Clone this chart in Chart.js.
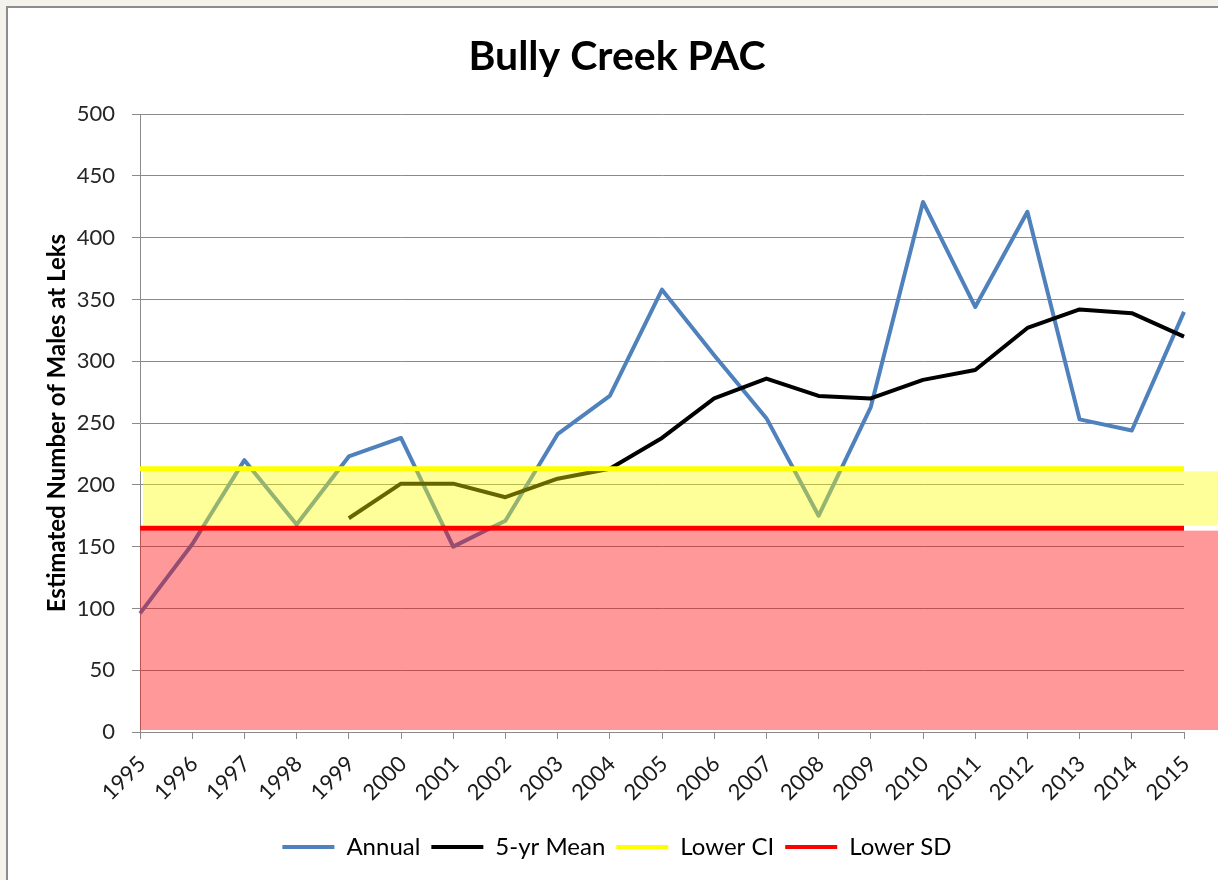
<!DOCTYPE html>
<html>
<head>
<meta charset="utf-8">
<script src="https://cdn.jsdelivr.net/npm/chart.js@4.4.1/dist/chart.umd.min.js"></script>
<style>
  html, body { margin: 0; padding: 0; background: #f3f3ec; overflow: hidden; width: 1218px; height: 880px; }
  #frame { position: absolute; left: 6px; top: 6px; width: 1240px; height: 900px; background: #ffffff;
           border-top: 2px solid #8c8c8c; border-left: 2px solid #8c8c8c; }
  canvas { position: absolute; left: 0; top: 0; }
</style>
</head>
<body>
<div id="frame"><canvas id="c" width="1224" height="872"></canvas></div>
<script>
const years = ['1995','1996','1997','1998','1999','2000','2001','2002','2003','2004','2005','2006','2007','2008','2009','2010','2011','2012','2013','2014','2015'];
const annual = [96,152,220,168,223,238,150,171,241,272,358,305,254,175,263,429,344,421,253,244,340];
const mean5  = [null,null,null,null,173,201,201,190,205,213,238,270,286,272,270,285,293,327,342,339,320];
const lowerCI = [213,213,213,213,213,213,213,213,213,213,213,213,213,213,213,213,213,213,213,213,213];
const lowerSD = [165,165,165,165,165,165,165,165,165,165,165,165,165,165,165,165,165,165,165,165,165];
const yTicks = [0,50,100,150,200,250,300,350,400,450,500];

const FONT = "Lato, 'Liberation Sans', sans-serif";

const bandsPlugin = {
  id: 'bands',
  afterDatasetDraw(chart, args) {
    if (args.index !== 1) return; // after 5-yr Mean, before threshold lines
    const ctx = chart.ctx;
    const y = chart.scales.y;
    const left = chart.chartArea.left;
    const right = chart.width;
    const yCI = y.getPixelForValue(lowerCI[0]);
    const ySD = y.getPixelForValue(lowerSD[0]);
    const y0 = y.getPixelForValue(0);
    ctx.save();
    ctx.fillStyle = 'rgba(255,255,0,0.4)';
    ctx.fillRect(left + 3, yCI + 2.5, right - left - 3, (ySD - 2.5) - (yCI + 2.5));
    ctx.fillStyle = 'rgba(255,0,0,0.4)';
    ctx.fillRect(left, ySD + 2.5, right - left, (y0 - 2) - (ySD + 2.5));
    ctx.restore();
  }
};

new Chart(document.getElementById('c'), {
  type: 'line',
  data: {
    labels: years,
    datasets: [
      { label: 'Annual', data: annual, borderColor: '#4f81bd', backgroundColor: '#4f81bd', borderWidth: 4, order: 3 },
      { label: '5-yr Mean', data: mean5, borderColor: '#000000', backgroundColor: '#000000', borderWidth: 4, order: 2 },
      { label: 'Lower CI', data: lowerCI, borderColor: '#ffff00', backgroundColor: '#ffff00', borderWidth: 5, order: 1 },
      { label: 'Lower SD', data: lowerSD, borderColor: '#ff0000', backgroundColor: '#ff0000', borderWidth: 5, order: 0 }
    ]
  },
  options: {
    responsive: false,
    animation: false,
    devicePixelRatio: 1,
    elements: { point: { radius: 0, hoverRadius: 0 }, line: { tension: 0, borderCapStyle: 'butt', borderJoinStyle: 'round' } },
    layout: { padding: { left: 42, right: 48, top: 0, bottom: 11 } },
    plugins: {
      tooltip: { enabled: false },
      title: {
        display: true, text: 'Bully Creek PAC', color: '#000',
        font: { family: FONT, size: 41, weight: 'bold' },
        padding: { top: 24, bottom: 33 }
      },
      legend: {
        position: 'bottom',
        labels: {
          color: '#000', font: { family: FONT, size: 24 },
          boxWidth: 52, boxHeight: 4, padding: 11,
          generateLabels(chart) {
            return chart.data.datasets.map((d, i) => ({
              text: d.label, fillStyle: d.borderColor, strokeStyle: d.borderColor,
              lineWidth: 0, hidden: false, datasetIndex: i, fontColor: '#000'
            }));
          }
        }
      }
    },
    scales: {
      x: {
        type: 'category',
        offset: false,
        afterFit(s) { s.height = 92; },
        grid: { display: true, drawOnChartArea: false, drawTicks: true, tickLength: 7, color: '#8a8a8a' },
        border: { display: true, color: '#8a8a8a', width: 1 },
        ticks: { autoSkip: false, maxRotation: 45, minRotation: 45, padding: 12, labelOffset: 2, color: '#1a1a1a', font: { family: FONT, size: 22 } }
      },
      y: {
        min: 0, max: 500,
        afterFit(s) { s.width = 90; },
        afterBuildTicks(s) { s.ticks = yTicks.map(v => ({ value: v })); },
        grid: { color: '#8a8a8a', lineWidth: 1, tickLength: 8 },
        border: { display: true, color: '#8a8a8a', width: 1 },
        ticks: { padding: 17, color: '#262626', font: { family: FONT, size: 22 } },
        title: { display: true, text: 'Estimated Number of Males at Leks', color: '#000',
                 font: { family: FONT, size: 24, weight: 'bold' }, padding: { top: -7, bottom: 0 } }
      }
    }
  },
  plugins: [bandsPlugin]
});
</script>
</body>
</html>
